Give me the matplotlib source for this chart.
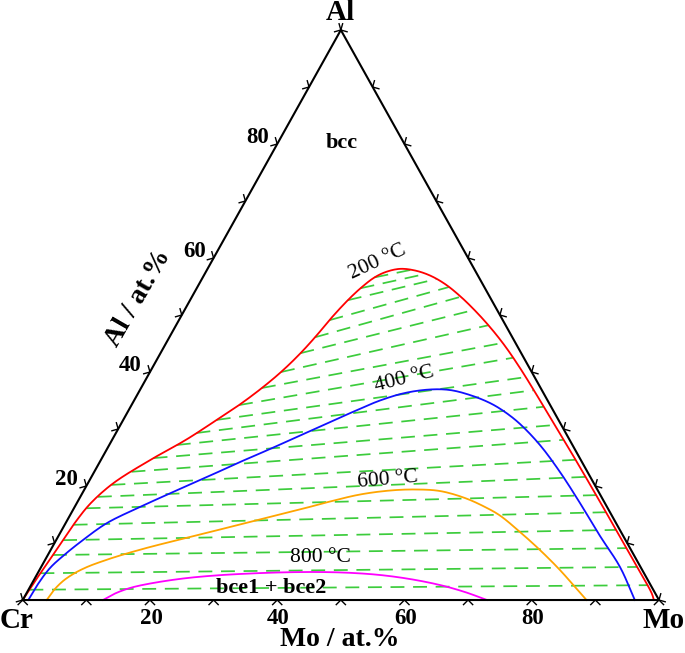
import matplotlib.pyplot as plt
import numpy as np

plt.rcParams['font.family'] = ['Liberation Serif', 'DejaVu Serif']

# compositions in at.% (Mo, Al), Cr is the balance
# 200 C boundary, Cr side -> top -> Mo side
red_mo = [0.0, 0.3, 0.7, 1.1, 1.5, 2.2, 4.0, 7.8, 11.6, 14.7, 16.9, 19.0, 20.6, 21.9,
          22.9, 23.8, 24.8, 25.8, 27.0, 28.4, 30.3, 32.75, 35.55, 38.65, 42.06, 45.68,
          49.49, 53.52, 57.81, 62.26, 66.97, 73.15, 79.3, 86.4, 92.95, 98.25, 99.2]
red_al = [0.0, 3.5, 7.0, 10.5, 14.0, 17.0, 20.5, 24.6, 28.1, 31.6, 34.2, 37.2, 40.0, 43.0,
          46.1, 49.6, 52.6, 54.8, 56.6, 57.6, 58.1, 57.81, 56.93, 55.44, 53.33, 50.79,
          47.89, 44.56, 40.7, 36.49, 31.93, 26.0, 20.0, 13.0, 6.5, 1.2, 0.0]

# 400 C
blue_mo = [0.88, 1.0, 1.48, 2.47, 4.21, 6.5, 10.27, 14.15, 18.17, 22.05, 25.62, 29.15,
           32.7, 35.64, 38.65, 41.92, 45.54, 48.73, 52.32, 56.16, 59.31, 62.72, 67.7,
           73.21, 79.07, 85.12, 90.98, 96.2]
blue_al = [0.0, 2.81, 5.61, 7.72, 10.53, 13.51, 16.32, 18.95, 21.58, 24.21, 26.49, 28.86,
           31.23, 33.16, 35.0, 36.32, 36.93, 36.84, 35.96, 34.56, 32.98, 30.88, 27.19,
           22.46, 17.02, 11.23, 5.79, 0.0]

# 600 C
orange_mo = [3.77, 4.04, 4.67, 5.74, 7.21, 9.2, 11.39, 15.36, 19.42, 23.47, 27.53, 31.58,
             35.64, 39.66, 43.76, 48.12, 51.96, 56.02, 60.57, 64.5, 67.6, 72.19, 76.91,
             81.81, 85.66, 88.61]
orange_al = [0.0, 1.75, 3.33, 4.65, 5.79, 6.84, 7.81, 9.3, 10.61, 11.93, 13.25, 14.56,
             15.88, 17.28, 18.51, 19.21, 19.39, 19.12, 17.89, 16.32, 14.82, 11.93, 8.77,
             5.26, 2.28, 0.0]

# 800 C
magenta_mo = [12.62, 13.94, 15.81, 18.56, 23.3, 28.07, 33.4, 38.79, 44.27, 49.05, 53.96,
              59.03, 64.27, 68.81, 72.97]
magenta_al = [0.0, 1.14, 2.11, 2.89, 3.77, 4.3, 4.65, 4.86, 4.91, 4.77, 4.39, 3.68, 2.63,
              1.4, 0.0]

# tie lines: Al content at the left and right end on the 200 C boundary
tie_al_left = [1.8, 4.7, 7.9, 10.5, 13.2, 16.1, 18.1, 20.2, 22.5, 24.9, 27.2, 29.3, 31.6,
               34.2, 37.2, 40.0, 43.3, 46.1, 49.1, 52.6, 54.7, 56.6]
tie_al_right = [2.6, 5.8, 9.1, 12.3, 15.4, 18.4, 21.6, 24.6, 28.1, 30.7, 33.9, 36.8, 39.1,
                42.5, 45.1, 48.2, 50.9, 53.2, 54.9, 56.3, 57.2, 57.9]

ticks = np.arange(0, 101, 10)
tick_labels = [20, 40, 60, 80]


def to_xy(mo, al):
    mo = np.asarray(mo, dtype=float) / 100.0
    al = np.asarray(al, dtype=float) / 100.0
    return mo + al / 2, al * np.sqrt(3) / 2


def smooth(x, y, n=12, alpha=0.5):
    # centripetal Catmull-Rom through the read points, done in pixel space
    P = np.column_stack([np.asarray(x) * sx, np.asarray(y) * sy])
    P = np.vstack([2 * P[0] - P[1], P, 2 * P[-1] - P[-2]])
    out = []
    for i in range(len(P) - 3):
        p0, p1, p2, p3 = P[i:i + 4]
        t0 = 0.0
        t1 = t0 + np.linalg.norm(p1 - p0) ** alpha
        t2 = t1 + np.linalg.norm(p2 - p1) ** alpha
        t3 = t2 + np.linalg.norm(p3 - p2) ** alpha
        t = np.linspace(t1, t2, n, endpoint=False)[:, None]
        a1 = (t1 - t) / (t1 - t0) * p0 + (t - t0) / (t1 - t0) * p1
        a2 = (t2 - t) / (t2 - t1) * p1 + (t - t1) / (t2 - t1) * p2
        a3 = (t3 - t) / (t3 - t2) * p2 + (t - t2) / (t3 - t2) * p3
        b1 = (t2 - t) / (t2 - t0) * a1 + (t - t0) / (t2 - t0) * a2
        b2 = (t3 - t) / (t3 - t1) * a2 + (t - t1) / (t3 - t1) * a3
        out.append((t2 - t) / (t2 - t1) * b1 + (t - t1) / (t2 - t1) * b2)
    out.append(P[-2][None])
    out = np.vstack(out)
    return out[:, 0] / sx, out[:, 1] / sy


W, H = 685, 653
fig = plt.figure(figsize=(W / 100, H / 100), dpi=100)
ax = fig.add_axes([0, 0, 1, 1])
xlim = (-0.0357, 1.0409)
ylim = (-0.0805, 0.9116)
ax.set_xlim(xlim)
ax.set_ylim(ylim)
ax.axis('off')
sx = W / (xlim[1] - xlim[0])
sy = H / (ylim[1] - ylim[0])

# tie lines
red_mo_a = np.array(red_mo)
red_al_a = np.array(red_al)
top = int(np.argmax(red_al_a))
left_mo, left_al = red_mo_a[:top + 1], red_al_a[:top + 1]
right_mo, right_al = red_mo_a[top:][::-1], red_al_a[top:][::-1]
for al_l, al_r in zip(tie_al_left, tie_al_right):
    mo_l = np.interp(al_l, left_al, left_mo)
    mo_r = np.interp(al_r, right_al, right_mo)
    x, y = to_xy([mo_l, mo_r], [al_l, al_r])
    ax.plot(x, y, color='#3ccc3c', lw=1.25, dashes=(8, 5), zorder=2)

# phase boundaries
for mo, al, c in [(red_mo, red_al, '#ff0000'), (blue_mo, blue_al, '#1010ff'),
                  (orange_mo, orange_al, '#ffa500'), (magenta_mo, magenta_al, '#ff00ff')]:
    x, y = smooth(*to_xy(mo, al))
    ax.plot(x, y, color=c, lw=1.3, zorder=3)

# triangle
x, y = to_xy([0, 100, 0, 0], [0, 0, 100, 0])
ax.plot(x, y, color='black', lw=1.5, zorder=4)

# chevron ticks (drawn in pixel directions)
edges = {
    'bottom': (lambda t: (t, 0), (1.0, 0.0), (0.0, -1.0)),
    'left': (lambda t: (0, t), (0.487, 0.873), (-0.873, 0.487)),
    'right': (lambda t: (100 - t, t), (-0.487, 0.873), (0.873, 0.487)),
}
L = 6.5
a = np.radians(45)
for name, (pos, d, n) in edges.items():
    for t in ticks:
        mo, al = pos(t)
        x0, y0 = to_xy(mo, al)
        xs, ys = [], []
        for sgn in (-1, 1):
            vx = L * (np.cos(a) * n[0] + sgn * np.sin(a) * d[0])
            vy = L * (np.cos(a) * n[1] + sgn * np.sin(a) * d[1])
            xs.append(x0 + vx / sx)
            ys.append(y0 + vy / sy)
        ax.plot([xs[0], x0, xs[1]], [ys[0], y0, ys[1]], color='black', lw=1.0, zorder=4)


def fx(px):
    return px / W


def fy(py):
    return 1 - py / H


tr = fig.transFigure
bold = dict(fontweight='bold', transform=tr, ha='center', va='center')

# tick labels
for t in tick_labels:
    x0, _ = to_xy(t, 0)
    px = 22.7 + x0 * 636.3
    ax.text(fx(px + 1), fy(618), str(t), fontsize=16.5, **bold)
    xl, yl = to_xy(0, t)
    px = 22.7 + xl * 636.3
    py = 600 - yl * 658.2
    ax.text(fx(px - 8), fy(py - 6), str(t), fontsize=16.5, fontweight='bold',
            transform=tr, ha='right', va='center')

# corner and axis labels
ax.text(fx(0), fy(621), 'Cr', fontsize=21, fontweight='bold', transform=tr,
        ha='left', va='center')
ax.text(fx(685), fy(620), 'Mo', fontsize=21, fontweight='bold', transform=tr,
        ha='right', va='center')
ax.text(fx(340), fy(12), 'Al', fontsize=21, **bold)
ax.text(fx(340), fy(639), 'Mo / at.%', fontsize=20, **bold)
ax.text(fx(138), fy(298), 'Al / at.%', fontsize=20, rotation=60, **bold)

# phase labels
ax.text(fx(342), fy(143), 'bcc', fontsize=16, **bold)
ax.text(fx(271), fy(588), 'bce1 + bce2', fontsize=16, **bold)

# isotherm labels
reg = dict(transform=tr, ha='center', va='center', fontsize=15.5)
ax.text(fx(378), fy(262), '200 °C', rotation=25, **reg)
ax.text(fx(404), fy(379), '400 °C', rotation=14, **reg)
ax.text(fx(388), fy(480), '600 °C', rotation=5, **reg)
ax.text(fx(320), fy(558), '800 °C', rotation=0, **reg)

fig.savefig('out.png', dpi=100)
